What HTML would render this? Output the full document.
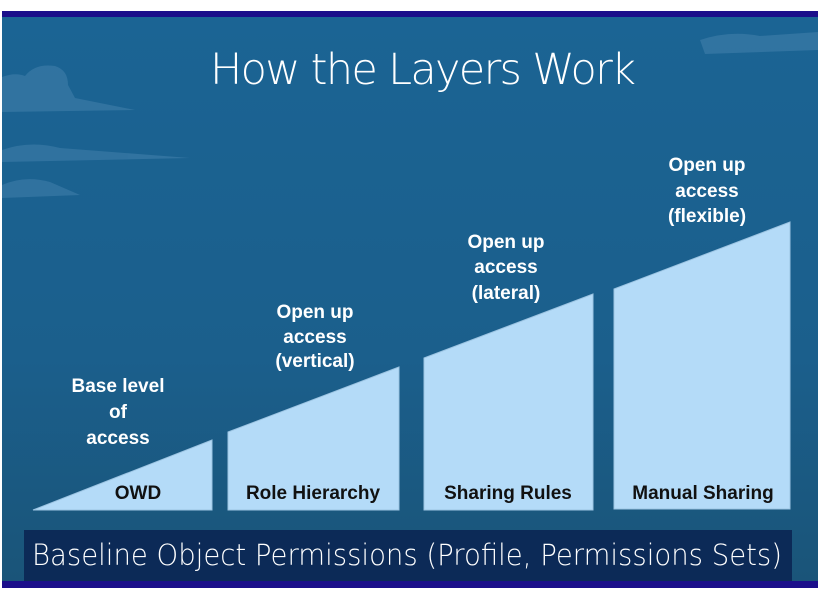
<!DOCTYPE html>
<html><head><meta charset="utf-8"><style>
html,body{margin:0;padding:0;background:#fff;}
body{width:820px;height:599px;position:relative;overflow:hidden;font-family:"Liberation Sans",sans-serif;}
</style></head><body>
<svg width="820" height="599" viewBox="0 0 820 599" style="position:absolute;left:0;top:0">
<defs>
<linearGradient id="bg" x1="0" y1="0" x2="0" y2="1">
<stop offset="0" stop-color="#1b6494"/>
<stop offset="0.6" stop-color="#1b5f8c"/>
<stop offset="1" stop-color="#1a5478"/>
</linearGradient>
</defs>
<rect x="2" y="11" width="816" height="577" fill="url(#bg)"/>
<rect x="2" y="11" width="816" height="6" fill="#1b0f8a"/>
<rect x="2" y="581" width="816" height="7" fill="#1b0f8a"/>
<g fill="#3a7aa6" opacity="0.7">
<path d="M2 77 Q15 72 25 76 Q35 63 55 66 Q68 70 68 85 L75 98 L135 110 L2 112 Z"/>
<path d="M2 150 Q30 140 60 148 L190 158 L2 162 Z"/>
<path d="M700 40 Q730 30 760 36 L818 32 L818 50 L705 54 Z"/>
<path d="M2 185 Q25 175 50 182 L80 195 L2 198 Z"/>
</g>
<text x="423" y="84" fill="#fff" font-size="43" text-anchor="middle" style="font-family:'DejaVu Sans','Liberation Sans',sans-serif;font-weight:200" textLength="426">How the Layers Work</text>
<g fill="#b4dbf8" stroke="#9cc4e2" stroke-width="1">
<polygon points="33,510 212,440 212,510"/>
<polygon points="228,432 399,367 399,510 228,510"/>
<polygon points="424,358 593,294 593,510 424,510"/>
<polygon points="614,289 790,222 790,509 614,509"/>
</g>
<g fill="#fff" font-size="19" font-weight="bold" text-anchor="middle">
<text x="118" y="392">Base level</text><text x="118" y="418">of</text><text x="118" y="444">access</text>
<text x="315" y="318">Open up</text><text x="315" y="343">access</text><text x="315" y="367">(vertical)</text>
<text x="506" y="248">Open up</text><text x="506" y="273">access</text><text x="506" y="299">(lateral)</text>
<text x="707" y="171">Open up</text><text x="707" y="197">access</text><text x="707" y="222">(flexible)</text>
</g>
<g fill="#111" font-size="19" font-weight="bold" text-anchor="middle">
<text x="138" y="499">OWD</text>
<text x="313" y="499">Role Hierarchy</text>
<text x="508" y="499">Sharing Rules</text>
<text x="703" y="499">Manual Sharing</text>
</g>
<rect x="24" y="530" width="768" height="51" fill="#0c2a57"/>
<text x="32" y="565" fill="#fff" font-size="29" style="font-family:'DejaVu Sans','Liberation Sans',sans-serif;font-weight:200" textLength="750" lengthAdjust="spacingAndGlyphs">Baseline Object Permissions (Profile, Permissions Sets)</text>
</svg>
</body></html>
